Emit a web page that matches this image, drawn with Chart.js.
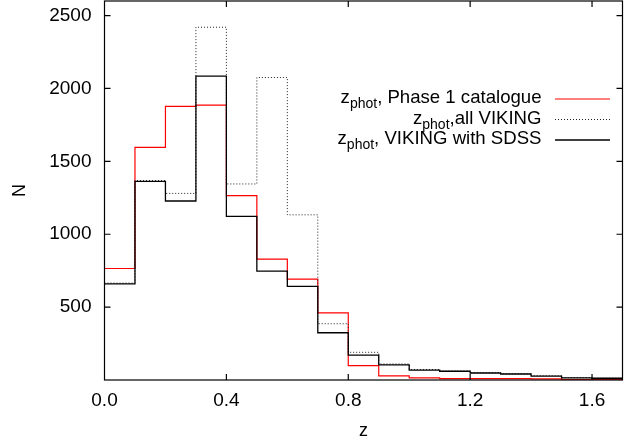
<!DOCTYPE html>
<html><head><meta charset="utf-8">
<script src="https://cdn.jsdelivr.net/npm/chart.js@4/dist/chart.umd.min.js"></script>
<style>html,body{margin:0;padding:0;background:#fff}#wrap{width:634px;height:442px}</style>
</head><body><div id="wrap"><canvas id="c" width="634" height="442"></canvas></div>
<script>
const binLeftEdges = [0.0,0.1,0.2,0.3,0.4,0.5,0.6,0.7,0.8,0.9,1.0,1.1,1.2,1.3,1.4,1.5,1.6];
const zMax = 1.7;
const phase1Counts = [765,1596,1877,1886,1265,829,692,461,99,28,14,10,10,9,8,3,2];
const allVikingCounts = [665,1368,1280,2420,1345,2075,1133,386,190,110,72,62,50,43,29,16,12];
const vikingSdssCounts = [660,1362,1228,2084,1123,747,642,324,171,104,68,60,48,41,27,15,12];
const xTickValues = [0.0,0.4,0.8,1.2,1.6];
const yTickValues = [500,1000,1500,2000,2500];
const seriesSubscript = "phot";
const seriesLabels = [", Phase 1 catalogue", ",all VIKING", ", VIKING with SDSS"];

const FONT = '"Liberation Sans", Arial, Helvetica, sans-serif';
Chart.defaults.font.family = FONT;
Chart.defaults.font.size = 18;
Chart.defaults.color = '#000';

function toSteps(counts){
  const pts = counts.map((v,i)=>({x:binLeftEdges[i], y:v}));
  pts.push({x:zMax, y:counts[counts.length-1]});
  return pts;
}

const styles = [
  {color:'#ff0000', width:1.2, dash:[]},
  {color:'#222222', width:1.0, dash:[1,2]},
  {color:'#000000', width:1.3, dash:[]}
];

const framePlugin = {
  id:'frame',
  afterDatasetsDraw(chart){
    const {ctx, chartArea:a, scales:{x, y}} = chart;
    ctx.save();
    ctx.strokeStyle = '#000';
    ctx.lineWidth = 1.2;
    ctx.setLineDash([]);
    ctx.strokeRect(a.left, a.top, a.right-a.left, a.bottom-a.top);
    const tl = 6;
    ctx.beginPath();
    xTickValues.forEach(v=>{
      const px = x.getPixelForValue(v);
      if (px <= a.left+1 || px >= a.right-1) return;
      ctx.moveTo(px, a.bottom); ctx.lineTo(px, a.bottom-tl);
      ctx.moveTo(px, a.top); ctx.lineTo(px, a.top+tl);
    });
    yTickValues.forEach(v=>{
      const py = y.getPixelForValue(v);
      ctx.moveTo(a.left, py); ctx.lineTo(a.left+tl, py);
      ctx.moveTo(a.right, py); ctx.lineTo(a.right-tl, py);
    });
    ctx.stroke();

    // legend
    const textRight = 541.5, lineX0 = 555, lineX1 = 610;
    const rowY = [99, 119.5, 140];
    const mainFont = '18.6px ' + FONT, subFont = '14px ' + FONT;
    ctx.fillStyle = '#000';
    ctx.textBaseline = 'alphabetic';
    ctx.textAlign = 'left';
    seriesLabels.forEach((lab,i)=>{
      const base = rowY[i] + 4;
      ctx.font = mainFont; const wz = ctx.measureText('z').width; const wl = ctx.measureText(lab).width;
      ctx.font = subFont; const ws = ctx.measureText(seriesSubscript).width;
      let xx = textRight - (wz+ws+wl);
      ctx.font = mainFont; ctx.fillText('z', xx, base); xx += wz;
      ctx.font = subFont; ctx.fillText(seriesSubscript, xx, base+5); xx += ws;
      ctx.font = mainFont; ctx.fillText(lab, xx, base);
      const st = styles[i];
      ctx.strokeStyle = st.color; ctx.lineWidth = st.width; ctx.setLineDash(st.dash);
      ctx.beginPath(); ctx.moveTo(lineX0, rowY[i]); ctx.lineTo(lineX1, rowY[i]); ctx.stroke();
    });
    ctx.restore();
  }
};

new Chart(document.getElementById('c'), {
  type:'line',
  data:{
    datasets:[
      {label:'Phase 1 catalogue', data:toSteps(phase1Counts), order:3},
      {label:'all VIKING', data:toSteps(allVikingCounts), order:2},
      {label:'VIKING with SDSS', data:toSteps(vikingSdssCounts), order:1}
    ].map((d,i)=>Object.assign(d,{
      borderColor:styles[i].color, borderWidth:styles[i].width, borderDash:styles[i].dash,
      stepped:'before', pointRadius:0, fill:false, tension:0
    }))
  },
  options:{
    responsive:false, animation:false,
    layout:{padding:{top:1, right:11.5, left:0, bottom:0}},
    plugins:{legend:{display:false}, tooltip:{enabled:false}},
    scales:{
      x:{
        type:'linear', min:0, max:zMax,
        afterBuildTicks:s=>{ s.ticks = xTickValues.map(v=>({value:v})); },
        afterFit:s=>{ s.height = 62; s.paddingLeft = 0; s.paddingRight = 0; },
        ticks:{callback:v=>Number(v).toFixed(1), maxRotation:0, autoSkip:false, padding:9, color:'#000', font:{size:19}},
        grid:{display:false, drawTicks:false}, border:{display:false},
        title:{display:true, text:'z', color:'#000', padding:{top:0,bottom:0}}
      },
      y:{
        min:0, max:2600,
        afterBuildTicks:s=>{ s.ticks = yTickValues.map(v=>({value:v})); },
        afterFit:s=>{ s.width = 104.5; s.paddingTop = 0; s.paddingBottom = 0; },
        ticks:{callback:v=>String(v), padding:13, color:'#000', font:{size:19}},
        grid:{display:false, drawTicks:false}, border:{display:false},
        title:{display:true, text:'N', color:'#000', padding:{top:9,bottom:0}}
      }
    }
  },
  plugins:[framePlugin]
});
</script>
</body></html>
